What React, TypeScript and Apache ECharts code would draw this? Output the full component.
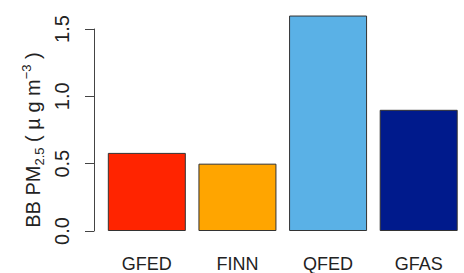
import React, { useEffect, useRef } from "react";
import * as echarts from "echarts";

const categories = ["GFED", "FINN", "QFED", "GFAS"];
const values = [0.58, 0.5, 1.6, 0.9];
const colors = ["#FF2400", "#FFA500", "#5AB1E6", "#001A8C"];
const yTicks = { min: 0, max: 1.5, interval: 0.5 };

export default function App() {
  const ref = useRef<HTMLDivElement>(null);
  useEffect(() => {
    if (!ref.current) return;
    const chart = echarts.init(ref.current, null, { renderer: "svg" });
    chart.setOption({
      animation: false,
      backgroundColor: "#ffffff",
      textStyle: { fontFamily: "Liberation Sans, Arial, sans-serif" },
      grid: { left: 101.5, right: -8.5, top: 29, bottom: 42, containLabel: false },
      xAxis: {
        type: "category",
        data: categories,
        axisLine: { show: false },
        axisTick: { show: false },
        axisLabel: { fontSize: 18, color: "#222", margin: 24, fontFamily: "Liberation Sans, Arial, sans-serif" },
      },
      yAxis: {
        type: "value",
        min: yTicks.min,
        max: yTicks.max,
        interval: yTicks.interval,
        offset: 7.5,
        axisLine: { show: true, lineStyle: { color: "#444", width: 1 } },
        axisTick: { show: true, length: 9, lineStyle: { color: "#444", width: 1 } },
        axisLabel: {
          rotate: 90,
          fontSize: 20,
          color: "#222",
          margin: 22,
          formatter: (v: number) => v.toFixed(1),
          fontFamily: "Liberation Sans, Arial, sans-serif",
        },
        splitLine: { show: false },
      },
      series: [
        {
          type: "bar",
          barWidth: 78,
          clip: false,
          data: values.map((v, i) => ({
            value: v,
            itemStyle: { color: colors[i], borderColor: "#333", borderWidth: 1 },
          })),
        },
      ],
      graphic: [
        {
          type: "text",
          x: 33,
          y: 140,
          rotation: Math.PI / 2,
          style: {
            text: "{m|BB PM}{sub|2.5}{m| ( µ g m}{sup|−3}{m| )}",
            align: "center",
            verticalAlign: "middle",
            fill: "#222",
            fontFamily: "Liberation Sans, Arial, sans-serif",
            rich: {
              m: { fontSize: 20, lineHeight: 26, verticalAlign: "middle", fill: "#222" },
              sub: { fontSize: 13, lineHeight: 26, verticalAlign: "bottom", fill: "#222" },
              sup: { fontSize: 13, lineHeight: 26, verticalAlign: "top", fill: "#222" },
            },
          },
        },
      ],
    });
    return () => chart.dispose();
  }, []);
  return (
    <div
      ref={ref}
      style={{ position: "absolute", left: 0, top: 0, width: 464, height: 273 }}
    />
  );
}
